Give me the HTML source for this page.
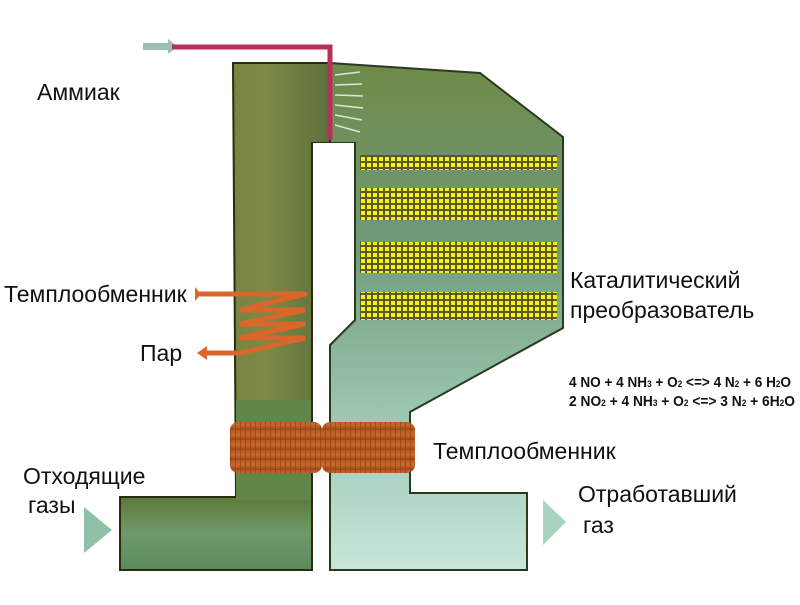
<!DOCTYPE html>
<html><head><meta charset="utf-8"><style>
body{margin:0;background:#fff;width:800px;height:600px;overflow:hidden}
svg text{font-family:"Liberation Sans",sans-serif;fill:#111}
</style></head><body>
<svg width="800" height="600" viewBox="0 0 800 600" xmlns="http://www.w3.org/2000/svg">
<defs>
<linearGradient id="gl" x1="0" y1="0" x2="1" y2="0">
<stop offset="0" stop-color="#4f5a22"/><stop offset="0.2" stop-color="#6f7a34"/><stop offset="0.7" stop-color="#7b8a45"/><stop offset="1" stop-color="#5d6e3c"/></linearGradient>
<linearGradient id="glb" x1="0" y1="0" x2="0" y2="1">
<stop offset="0" stop-color="#5c7a3a"/><stop offset="0.5" stop-color="#6e9a6a"/><stop offset="1" stop-color="#5a8a5c"/></linearGradient>
<linearGradient id="gr" x1="0" y1="0" x2="0" y2="1">
<stop offset="0" stop-color="#6f8a48"/><stop offset="0.35" stop-color="#6f9a78"/><stop offset="0.7" stop-color="#9cc7b2"/><stop offset="1" stop-color="#c8e6da"/></linearGradient>
<linearGradient id="ring" x1="0" y1="0" x2="0" y2="1">
<stop offset="0" stop-color="#b85a22"/><stop offset="0.5" stop-color="#c9692c"/><stop offset="1" stop-color="#9a4516"/></linearGradient>
<pattern id="grid" width="6" height="6" patternUnits="userSpaceOnUse">
<rect width="6" height="6" fill="#5a5a20"/><rect x="1" y="1" width="4" height="4" fill="#f4f020"/></pattern>
<pattern id="rib" width="5" height="10" patternUnits="userSpaceOnUse">
<rect width="5" height="10" fill="url(#ring)"/><rect x="0" width="1" height="10" fill="#8a3a12" opacity="0.6"/></pattern>
</defs>
<path d="M330 63 L480 73 L563 137 L563 328 L410 412 L410 493 L527 493 L527 570 L330 570 L330 345 L355 320 L355 143 L330 143 Z" fill="url(#gr)" stroke="#2a3a20" stroke-width="2"/>
<path d="M233 63 L330 63 L330 143 L312 143 L312 570 L120 570 L120 497 L236 497 Z" fill="url(#gl)" stroke="#2a2a10" stroke-width="2"/>
<rect x="121" y="498" width="190" height="71" fill="url(#glb)"/>
<rect x="236" y="400" width="75" height="100" fill="#62864a"/>
<path d="M313 143 L354 143 L354 320 L329 345 L329 575 L313 575 Z" fill="#fff"/>
<line x1="312" y1="143" x2="312" y2="570" stroke="#2a2a10" stroke-width="2"/>
<path d="M355 143 L355 320 L330 345 L330 570" fill="none" stroke="#2a3a20" stroke-width="2"/>
<rect x="360" y="155" width="197" height="15" fill="url(#grid)"/>
<rect x="360" y="188" width="197" height="32" fill="url(#grid)"/>
<rect x="360" y="242" width="197" height="31" fill="url(#grid)"/>
<rect x="360" y="292" width="197" height="28" fill="url(#grid)"/>
<g stroke="#d8e8d8" stroke-width="1.5">
<line x1="335" y1="75" x2="360" y2="72"/><line x1="335" y1="85" x2="362" y2="84"/><line x1="335" y1="95" x2="363" y2="96"/><line x1="335" y1="105" x2="363" y2="108"/><line x1="335" y1="115" x2="362" y2="120"/><line x1="335" y1="125" x2="360" y2="132"/></g>
<rect x="143" y="43" width="26" height="7" fill="#9fc0b0"/>
<polygon points="168,39 178,46.5 168,54" fill="#9fc0b0"/>
<path d="M172 47 L330 47 L330 140" fill="none" stroke="#b8305a" stroke-width="5"/>
<rect x="230" y="422" width="92" height="51" rx="8" fill="url(#rib)"/>
<rect x="322" y="422" width="93" height="51" rx="8" fill="url(#rib)"/>
<g fill="none" stroke="#d9662a" stroke-width="5" stroke-linecap="round">
<line x1="200" y1="294" x2="305" y2="294"/>
<path d="M305 294 L240 310 L305 310 L240 324 L305 324 L240 338 L305 338 L240 353 L205 353"/>
</g>
<polygon points="195,287 201,294 195,301" fill="#d9662a"/>
<polygon points="197,353 207,346 207,360" fill="#d9662a"/>
<polygon points="84,507 112,530 84,553" fill="#8fc0a8"/>
<polygon points="543,500 566,522 543,545" fill="#a8d4c0"/>
<text x="37" y="100" font-size="23">Аммиак</text>
<text x="4" y="302" font-size="23">Темплообменник</text>
<text x="140" y="361" font-size="23">Пар</text>
<text x="570" y="288" font-size="23">Каталитический</text>
<text x="570" y="318" font-size="23">преобразователь</text>
<text x="569" y="387" font-size="15" font-weight="bold" textLength="222" lengthAdjust="spacingAndGlyphs">4 NO + 4 NH<tspan font-size="9">3</tspan> + O<tspan font-size="9">2</tspan> &lt;=&gt; 4 N<tspan font-size="9">2</tspan> + 6 H<tspan font-size="9">2</tspan>O</text>
<text x="569" y="406" font-size="15" font-weight="bold" textLength="226" lengthAdjust="spacingAndGlyphs">2 NO<tspan font-size="9">2</tspan> + 4 NH<tspan font-size="9">3</tspan> + O<tspan font-size="9">2</tspan> &lt;=&gt; 3 N<tspan font-size="9">2</tspan> + 6H<tspan font-size="9">2</tspan>O</text>
<text x="433" y="459" font-size="23">Темплообменник</text>
<text x="23" y="484" font-size="23">Отходящие</text>
<text x="28" y="513" font-size="23">газы</text>
<text x="578" y="502" font-size="23">Отработавший</text>
<text x="583" y="533" font-size="23">газ</text>
</svg>
</body></html>
